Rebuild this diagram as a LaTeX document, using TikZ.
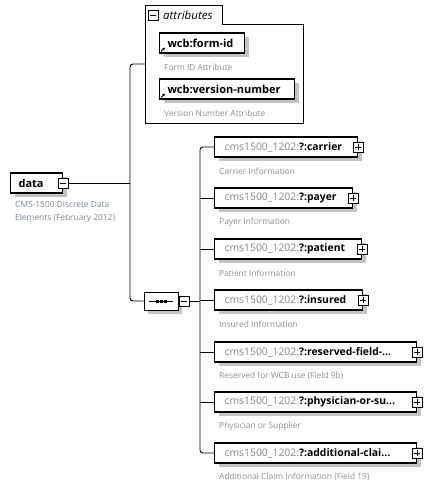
\documentclass[tikz,border=0pt]{standalone}
\usepackage{fontspec}
\setmainfont{Open Sans}
\usetikzlibrary{shadows,shapes.misc,calc,arrows.meta}
\definecolor{pfx}{HTML}{858585}
\definecolor{dsc}{HTML}{8F8F8F}
\definecolor{dscb}{HTML}{7D8896}
\definecolor{shdc}{HTML}{C4C4C4}
\newcommand{\ellab}[2]{\makebox[#1pt][l]{\hspace{10pt}\textcolor{pfx}{cms1500\_1202:}\textbf{?:#2}}}
\tikzset{
 conn/.style={draw=black, line width=0.9pt},
 shd/.style={drop shadow={shadow xshift=4pt, shadow yshift=-4pt, fill=shdc, opacity=1}},
 elem/.style={draw=black, line width=1.1pt, fill=white, shd, anchor=west, minimum height=20pt, inner xsep=0pt, inner ysep=0pt, font=\fontsize{10.4}{12}\selectfont},
 attr/.style={draw=black, line width=1.1pt, fill=white, shd, anchor=west, minimum height=20pt, inner xsep=0pt, inner ysep=0pt, font=\fontsize{11}{13}\selectfont\bfseries},
 desc/.style={anchor=west, text=dsc, inner sep=0pt, font=\fontsize{8.4}{10}\selectfont},
 pmbox/.style={draw=black, fill=white, line width=0.8pt, minimum size=10pt, inner sep=0pt},
 plusbox/.style={pmbox, path picture={\draw[line width=0.8pt] ([xshift=2pt]path picture bounding box.west) -- ([xshift=-2pt]path picture bounding box.east) ([yshift=-2pt]path picture bounding box.north) -- ([yshift=2pt]path picture bounding box.south);}},
 minusbox/.style={pmbox, path picture={\draw[line width=0.8pt] ([xshift=2pt]path picture bounding box.west) -- ([xshift=-2pt]path picture bounding box.east);}},
 refarrow/.style={line width=0.8pt, -{Triangle[length=2.5pt,width=2.5pt]}},
}
\begin{document}
\begin{tikzpicture}[x=1pt,y=-1pt]
\useasboundingbox[fill=white] (0,0) rectangle (430,487);
% attributes group
\draw[line width=0.9pt] (145,123) -- (145,5) -- (222,5) -- (222,24) -- (303,24) -- (303,123) -- cycle;
\node[minusbox] (attrpm) at (153,15) {};
\node[anchor=west, inner sep=0pt, font=\fontsize{11.5}{13}\selectfont\itshape] (attrlbl) at (163,15) {attributes};
\coordinate (attrin) at (145,64);
\node[attr] (formid) at (159,43) {\makebox[85pt][l]{\hspace{8pt}wcb:form-id}};
\draw[refarrow] ($(formid.south west)+(2,-2)$) -- ++(4,-4);
\node[desc] (formidd) at (164,67) {Form ID Attribute};
\node[attr] (vernum) at (159,89) {\makebox[135pt][l]{\hspace{8pt}wcb:version-number}};
\draw[refarrow] ($(vernum.south west)+(2,-2)$) -- ++(4,-4);
\node[desc] (vernumd) at (164,113) {Version Number Attribute};
% root
\node[elem, font=\fontsize{11}{13}\selectfont\bfseries] (data) at (10,183) {\makebox[52pt][l]{\hspace{8pt}data}};
\node[minusbox] (datapm) at (data.east) {};
\node[desc, align=left, text=dscb, font=\fontsize{8.4}{13}\selectfont] (datad) at (15,212) {CMS-1500 Discrete Data\\Elements (February 2012)};
% sequence
\node[chamfered rectangle, chamfered rectangle xsep=5pt, chamfered rectangle ysep=5pt, draw=black, line width=0.9pt, fill=white, shd, minimum width=34pt, minimum height=18pt, inner sep=0pt] (seq) at (161,301) {};
\draw[line width=0.9pt] ($(seq.center)+(-12,0)$) -- ($(seq.center)+(12,0)$);
\foreach \dx in {-4,0,4} \fill ($(seq.center)+(\dx-1.5,-1.5)$) rectangle ++(3,3);
\node[minusbox] (seqpm) at (184,301) {};
% children
\node[elem] (carrier) at (214,147) {\ellab{143}{carrier}};
\node[plusbox] (carrierpm) at (carrier.east) {};
\node[desc] (carrierd) at (219,171) {Carrier Information};
\node[elem] (payer) at (214,198) {\ellab{138}{payer}};
\node[plusbox] (payerpm) at (payer.east) {};
\node[desc] (payerd) at (219,222) {Payer Information};
\node[elem] (patient) at (214,249) {\ellab{147}{patient}};
\node[plusbox] (patientpm) at (patient.east) {};
\node[desc] (patientd) at (219,273) {Patient Information};
\node[elem] (insured) at (214,300) {\ellab{148}{insured}};
\node[plusbox] (insuredpm) at (insured.east) {};
\node[desc] (insuredd) at (219,324) {Insured Information};
\node[elem] (reserved) at (214,352) {\ellab{202}{reserved-field-...}};
\node[plusbox] (reservedpm) at (reserved.east) {};
\node[desc] (reservedd) at (219,376) {Reserved for WCB use (Field 9b)};
\node[elem] (physician) at (214,402) {\ellab{202}{physician-or-su...}};
\node[plusbox] (physicianpm) at (physician.east) {};
\node[desc] (physiciand) at (219,426) {Physician or Supplier};
\node[elem] (additional) at (214,453) {\ellab{202}{additional-clai...}};
\node[plusbox] (additionalpm) at (additional.east) {};
\node[desc] (additionald) at (219,477) {Additional Claim Information (Field 19)};
% connectors
\coordinate (dj) at (130,183);
\coordinate (sj) at (200,301);
\draw[conn] (datapm.east) -- (dj);
\draw[conn, rounded corners=3pt] (attrin) -| (dj) |- (seq.west);
\draw[conn] (seqpm.east) -- (sj);
\draw[conn, rounded corners=3pt] (carrier.west) -| (sj) |- (additional.west);
\foreach \n in {payer,patient,insured,reserved,physician} \draw[conn] (sj |- \n.west) -- (\n.west);
\end{tikzpicture}
\end{document}
